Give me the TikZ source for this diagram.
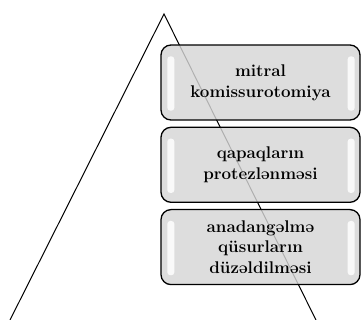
\documentclass[tikz,border=0pt]{standalone}
\usepackage{tikz}
\usetikzlibrary{positioning,calc}
\definecolor{boxgray}{RGB}{214,214,214}
\tikzset{
  legln/.style={line width=1pt, black},
  stepbox/.style={draw=black, line width=1.3pt, rounded corners=10bp, fill=boxgray, fill opacity=0.82, text opacity=1,
    minimum width=199bp, minimum height=75bp, align=center, inner sep=2bp,
    font=\bfseries\fontsize{17}{21}\selectfont},
}
% white glossy strips at both sides of a box
\newcommand{\gloss}[1]{%
  \fill[white, opacity=0.85, rounded corners=3bp] ($(#1.north west)+(7,12)$) rectangle ($(#1.south west)+(14,-10)$);
  \fill[white, opacity=0.85, rounded corners=3bp] ($(#1.north east)+(-13,12)$) rectangle ($(#1.south east)+(-6,-10)$);
}

\begin{document}
\begin{tikzpicture}[x=1bp, y=-1bp, node distance=6bp]
  \useasboundingbox (0,0) rectangle (361,320);
  % triangle legs, base cut off below
  \coordinate (apex) at (164,14);
  \coordinate (lfoot) at (10,320);
  \coordinate (rfoot) at (316,320);
  \draw[legln] (lfoot) -- (apex) -- (rfoot);
  % boxes on top of the right leg
  \node[stepbox] (mitral) at (260.5,82.5) {mitral\\komissurotomiya};
  \node[stepbox, below=of mitral] (qapaq) {qapaqların\\protezlənməsi};
  \node[stepbox, below=of qapaq] (qusur) {anadangəlmə\\qüsurların\\düzəldilməsi};
  \gloss{mitral} \gloss{qapaq} \gloss{qusur}
\end{tikzpicture}
\end{document}
